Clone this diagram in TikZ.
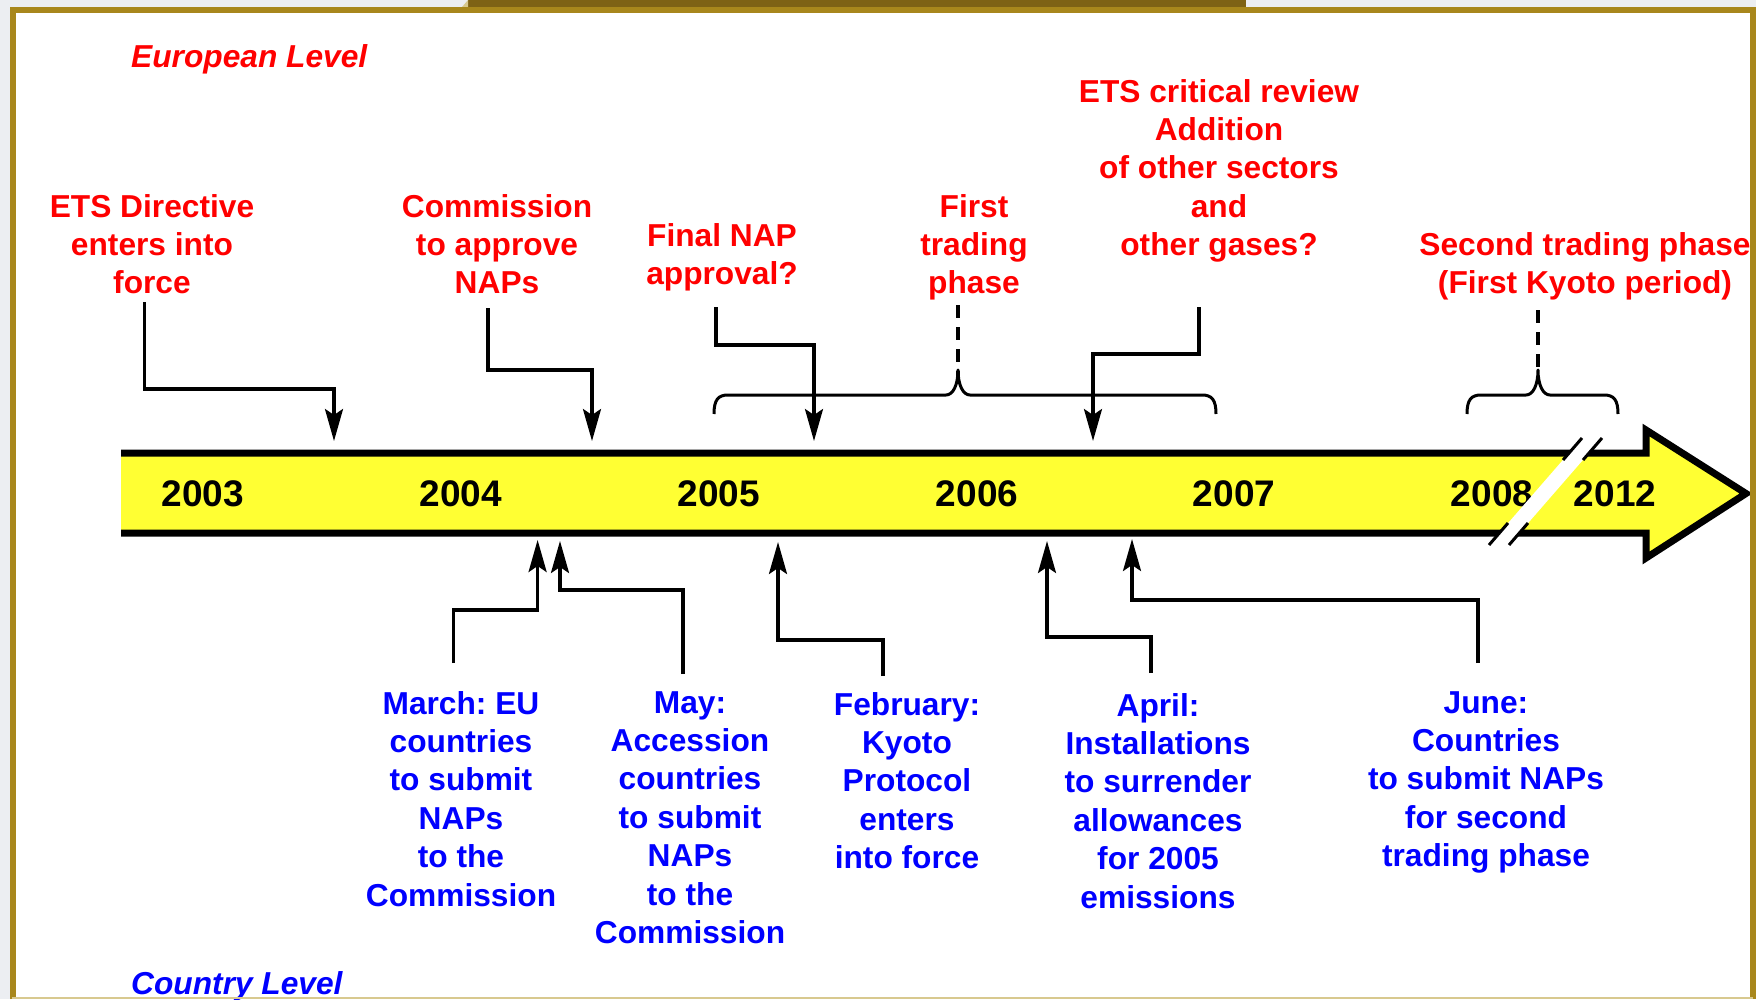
\documentclass[tikz,border=0pt]{standalone}
\usepackage{fontspec}
\setmainfont{Liberation Sans}
\usetikzlibrary{arrows.meta}
\definecolor{bandyellow}{HTML}{FFFF33}
\definecolor{framegold}{HTML}{A8871C}
\definecolor{framedark}{HTML}{7E6215}
\definecolor{framelight}{HTML}{D8C98F}
\definecolor{outergray}{HTML}{ECEEF2}
\definecolor{eured}{HTML}{FF0000}
\definecolor{cblue}{HTML}{0000FF}
\frenchspacing
\begin{document}
\begin{tikzpicture}[x=1pt,y=-1pt,
  lbl/.style={inner sep=0pt, align=center, anchor=north, font=\fontsize{31.7}{38.4}\selectfont\bfseries},
  eulbl/.style={lbl, text=eured},
  colbl/.style={lbl, text=cblue},
  yearlbl/.style={inner sep=0pt, font=\fontsize{37}{44}\selectfont\bfseries},
  levellbl/.style={inner sep=0pt, anchor=north west, font=\fontsize{31.7}{38}\selectfont\bfseries\itshape},
  conn/.style={line width=3.2pt, -{Stealth[length=32pt,width=18pt,inset=6pt]}},
  phasedash/.style={line width=3.6pt, dash pattern=on 13pt off 9pt},
  bracepath/.style={line width=3pt, line join=round}
]
\useasboundingbox (0,0) rectangle (1756,999);
\fill[outergray] (0,0) rectangle (1756,999);
\fill[white] (12,9) rectangle (1753,999);

% level labels
\node[levellbl, text=eured] (eulevel) at (131,44) {European Level};
\node[levellbl, text=cblue] (colevel) at (131,971) {Country Level};

% time band
\fill[bandyellow] (121,453) -- (1646,453) -- (1646,430) -- (1746,493.5) -- (1646,558) -- (1646,533) -- (121,533) -- cycle;
\draw[line width=7pt, line join=miter] (121,453) -- (1646,453) -- (1646,430) -- (1746,493.5) -- (1646,558) -- (1646,533) -- (121,533);

% years
\node[yearlbl] (y2003) at (203,494) {2003};
\node[yearlbl] (y2004) at (461,494) {2004};
\node[yearlbl] (y2005) at (719,494) {2005};
\node[yearlbl] (y2006) at (977,494) {2006};
\node[yearlbl] (y2007) at (1234,494) {2007};
\node[yearlbl] (y2008) at (1492,494) {2008};
\node[yearlbl] (y2012) at (1615,494) {2012};

% break in the band
\fill[white] (1489,545) -- (1582,438) -- (1602,438) -- (1509,545) -- cycle;
\draw[line width=3pt] (1563,460) -- (1582,438);
\draw[line width=3pt] (1583,460) -- (1602,438);
\draw[line width=3pt] (1489,545) -- (1508,523);
\draw[line width=3pt] (1509,545) -- (1528,523);

% European level labels
\node[eulbl] (etsdir) at (152,194) {ETS Directive\\enters into\\force};
\node[eulbl] (comm) at (497,194) {Commission\\to approve\\NAPs};
\node[eulbl] (finalnap) at (722,223) {Final NAP\\approval?};
\node[eulbl] (first) at (974,194) {First\\trading\\phase};
\node[eulbl] (review) at (1219,79) {ETS critical review\\Addition\\of other sectors\\and\\other gases?};
\node[eulbl] (second) at (1585,232) {Second trading phase\\(First Kyoto period)};

% Country level labels
\node[colbl] (march) at (461,691) {March: EU\\countries\\to submit\\NAPs\\to the\\Commission};
\node[colbl] (may) at (690,691) {May:\\Accession\\countries\\to submit\\NAPs\\to the\\Commission};
\node[colbl] (feb) at (907,692) {February:\\Kyoto\\Protocol\\enters\\into force};
\node[colbl] (april) at (1158,693) {April:\\Installations\\to surrender\\allowances\\for 2005\\emissions};
\node[colbl] (june) at (1486,691) {June:\\Countries\\to submit NAPs\\for second\\trading phase};

% connector end points
\coordinate (t1a) at (144.5,302); \coordinate (t1b) at (334,441);
\coordinate (t2a) at (488,308);   \coordinate (t2b) at (592,441);
\coordinate (t3a) at (716,307);   \coordinate (t3b) at (814,441);
\coordinate (t4a) at (1199,307);  \coordinate (t4b) at (1093,441);
\coordinate (b1a) at (453.6,663); \coordinate (b1b) at (537.6,540);
\coordinate (b2a) at (683,674);   \coordinate (b2b) at (560,541);
\coordinate (b3a) at (883,676);   \coordinate (b3b) at (778,542);
\coordinate (b4a) at (1151,673);  \coordinate (b4b) at (1047,541);
\coordinate (b5a) at (1478,663);  \coordinate (b5b) at (1132,539);

\draw[conn] (t1a) -- ++(0,87) -| (t1b);
\draw[conn] (t2a) -- ++(0,62) -| (t2b);
\draw[conn] (t3a) -- ++(0,38) -| (t3b);
\draw[conn] (t4a) -- ++(0,47) -| (t4b);
\draw[conn] (b1a) -- ++(0,-53) -| (b1b);
\draw[conn] (b2a) -- ++(0,-84) -| (b2b);
\draw[conn] (b3a) -- ++(0,-36) -| (b3b);
\draw[conn] (b4a) -- ++(0,-36) -| (b4b);
\draw[conn] (b5a) -- ++(0,-63) -| (b5b);

% phase braces
\coordinate (br1tip) at (958,370);
\coordinate (br2tip) at (1538,370);
\coordinate (d1a) at (958,305);
\coordinate (d2a) at (1538,310);
\draw[phasedash] (d1a) -- ([yshift=-6pt]br1tip);
\draw[phasedash] (d2a) -- ([yshift=-6pt]br2tip);
\draw[bracepath] (714,414) .. controls (714,400) and (718,395) .. (728,395) -- (946,395)
  .. controls (953,395) and (958,385) .. (br1tip)
  .. controls (958,385) and (963,395) .. (970,395) -- (1202,395)
  .. controls (1212,395) and (1216,400) .. (1216,414);
\draw[bracepath] (1467,414) .. controls (1467,400) and (1471,395) .. (1481,395) -- (1526,395)
  .. controls (1533,395) and (1538,385) .. (br2tip)
  .. controls (1538,385) and (1543,395) .. (1550,395) -- (1604,395)
  .. controls (1614,395) and (1618,400) .. (1618,414);

% frame
\fill[framedark] (468,0) rectangle (1246,10.5);
\fill[framelight] (459,10.5) -- (468,0) -- (468,10.5) -- cycle;
\draw[framegold, line width=6pt] (12.5,999) -- (12.5,9.5) -- (1753,9.5) -- (1753,999);
\draw[framelight, line width=2pt] (12,998) -- (1753,998);
\end{tikzpicture}
\end{document}
